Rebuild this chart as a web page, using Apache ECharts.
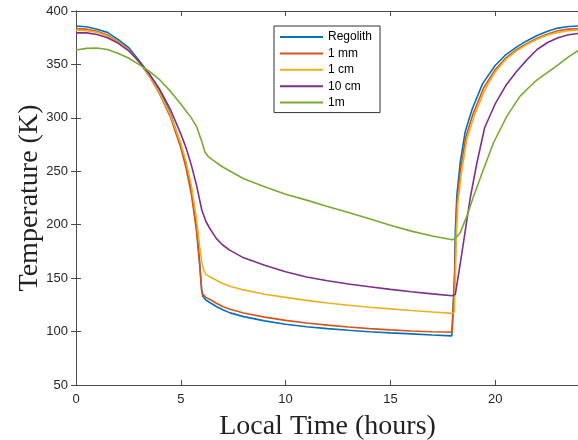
<!DOCTYPE html>
<html>
<head>
<meta charset="utf-8">
<script src="https://cdn.jsdelivr.net/npm/echarts@6/dist/echarts.min.js"></script>
<style>
  html, body { margin: 0; padding: 0; background: #fff; }
  #chart { width: 578px; height: 440px; }
</style>
</head>
<body>
<div id="chart"></div>
<script>
// [local time (h), temperature (K)]
const regolith = [
  [0, 386], [0.5, 385.2], [1, 383], [1.5, 380], [2, 373.5], [2.5, 366], [3, 354], [3.5, 341],
  [4, 325], [4.5, 304], [5, 275], [5.25, 257], [5.5, 233], [5.75, 198], [5.9, 165], [6, 138],
  [6.05, 133], [6.2, 129.5], [6.4, 127], [6.7, 123.5], [7, 120.5], [7.35, 117.5], [8, 114],
  [9, 110], [10, 106.8], [11, 104.5], [12, 102.8], [13, 101.2], [14, 99.9], [15, 98.8],
  [16, 97.8], [17, 96.8], [17.93, 96], [18.02, 97], [18.06, 150], [18.1, 195], [18.17, 227],
  [18.33, 258], [18.57, 287], [18.9, 308], [19.4, 332], [20, 349], [20.5, 359], [21, 366],
  [21.5, 372], [22, 377], [22.5, 381], [23, 384], [23.5, 385.5], [24, 386]
]
const oneMm = [
  [0, 383.5], [0.5, 383], [1, 381], [1.5, 377.5], [2, 371.5], [2.5, 364], [3, 352.5], [3.5, 339],
  [4, 322], [4.5, 301], [5, 272], [5.25, 253], [5.5, 229], [5.75, 194], [5.9, 162], [6, 138],
  [6.05, 135], [6.2, 132], [6.4, 130], [6.7, 126.5], [7, 123.5], [7.35, 120.8], [8, 117.3],
  [9, 113.5], [10, 110.5], [11, 108], [12, 106], [13, 104.3], [14, 102.8], [15, 101.6],
  [16, 100.6], [17, 99.9], [17.95, 99.4], [18.03, 101], [18.08, 160], [18.13, 200], [18.2, 225],
  [18.35, 252], [18.6, 282], [18.95, 304], [19.45, 328], [20, 345], [20.5, 356], [21, 363.5],
  [21.5, 369.5], [22, 374.5], [22.5, 378.5], [23, 381.5], [23.5, 383], [24, 383.5]
]
const oneCm = [
  [0, 382], [0.5, 381.5], [1, 380], [1.5, 376.5], [2, 371], [2.5, 363.5], [3, 352.5], [3.5, 339.5],
  [4, 323], [4.5, 303], [5, 276], [5.25, 259], [5.5, 237], [5.75, 205], [5.9, 180], [6, 165],
  [6.1, 157], [6.2, 153.5], [6.4, 151], [7, 145], [7.35, 142.5], [8, 139], [9, 135], [10, 132],
  [11, 129.2], [12, 126.7], [13, 124.6], [14, 122.8], [15, 121.2], [16, 119.7], [17, 118.3],
  [17.95, 117], [18.05, 118], [18.1, 150], [18.15, 190], [18.22, 220], [18.4, 250], [18.65, 280],
  [19, 302], [19.5, 326], [20, 343], [20.5, 354.5], [21, 362.5], [21.5, 368.5], [22, 373.5],
  [22.5, 377.5], [23, 380], [23.5, 381.5], [24, 382]
]
const tenCm = [
  [0, 379.5], [0.5, 379.5], [1, 378], [1.5, 375], [2, 370], [2.5, 363], [3, 353], [3.5, 341],
  [4, 326.5], [4.5, 308], [5, 285], [5.25, 272], [5.5, 256], [5.75, 237], [6, 214], [6.2, 203],
  [6.4, 196], [6.7, 187], [7, 181], [7.35, 176], [8, 169], [9, 162], [10, 156], [11, 151],
  [12, 147.5], [13, 144.5], [14, 142], [15, 139.5], [16, 137.3], [17, 135.3], [17.95, 133.5],
  [18.1, 135], [18.33, 163], [18.57, 194], [18.81, 225], [19.13, 258], [19.5, 291], [20, 313],
  [20.5, 330], [21, 343], [21.5, 354], [22, 364], [22.5, 370.5], [23, 375], [23.5, 377.8], [24, 379]
]
const oneM = [
  [0, 363.5], [0.5, 365], [1, 365.3], [1.5, 364], [2, 360.5], [2.5, 356], [3, 350], [3.5, 343.5],
  [4, 335.5], [4.5, 325], [5, 313], [5.5, 300], [5.75, 292], [6, 278], [6.15, 268], [6.3, 264],
  [6.5, 261], [7, 254], [8, 243], [9, 235.5], [10, 228.5], [11, 223], [12, 217], [13, 211.5],
  [14, 205.5], [15, 199.5], [16, 194], [17, 189.5], [17.95, 186], [18.1, 187], [18.33, 192.4],
  [18.65, 208], [18.97, 226.7], [19.44, 251.7], [19.92, 276.7], [20.56, 301.6], [21.19, 320.3],
  [21.67, 329.6], [22, 335.5], [22.5, 342.5], [23, 349.5], [23.5, 357], [24, 363.5]
]

const seriesNames = ['Regolith', '1 mm', '1 cm', '10 cm', '1m']
const seriesData = [regolith, oneMm, oneCm, tenCm, oneM]
const colors = ['#0072BD', '#D95319', '#EDB120', '#7E2F8E', '#77AC30']

const xMin = 0, xMax = 24, xStep = 5
const yMin = 50, yMax = 400, yStep = 50

const axisColor = '#4a4a4a'
const labelFont = { color: '#262626', fontSize: 13, fontFamily: 'Liberation Sans, Arial, sans-serif' }
const nameFont = { color: '#222', fontSize: 28, fontFamily: 'Liberation Serif, serif' }

function boxAxis(extra) {
  return Object.assign({
    type: 'value',
    axisLine: { show: true, lineStyle: { color: axisColor, width: 1 } },
    axisTick: { show: true, inside: true, length: 5, lineStyle: { color: axisColor } },
    splitLine: { show: false },
  }, extra)
}

const chart = echarts.init(document.getElementById('chart'), null, { renderer: 'canvas' })

chart.setOption({
  animation: false,
  backgroundColor: '#fff',
  color: colors,
  grid: { left: 76, right: -1, top: 11, bottom: 55, outerBoundsMode: 'none' },
  legend: {
    orient: 'vertical',
    left: 274,
    top: 26,
    padding: [5, 8, 4, 6],
    icon: 'rect',
    itemWidth: 43,
    itemHeight: 2,
    itemGap: 4.4,
    itemTextGap: 5,
    borderColor: '#333',
    borderWidth: 1,
    backgroundColor: '#fff',
    textStyle: { color: '#000', fontSize: 12, lineHeight: 12, fontFamily: 'Liberation Sans, Arial, sans-serif' },
    data: seriesNames,
  },
  xAxis: [
    boxAxis({
      min: xMin, max: xMax, interval: xStep, position: 'bottom',
      axisLabel: Object.assign({ margin: 8, showMaxLabel: false }, labelFont),
      name: 'Local Time (hours)',
      nameLocation: 'middle',
      nameGap: 28,
      nameMoveOverlap: false,
      nameTextStyle: nameFont,
    }),
    boxAxis({
      min: xMin, max: xMax, interval: xStep, position: 'top',
      axisLabel: { show: false },
    }),
  ],
  yAxis: [
    boxAxis({
      min: yMin, max: yMax, interval: yStep, position: 'left',
      axisLabel: Object.assign({ margin: 8 }, labelFont),
      name: 'Temperature (K)',
      nameLocation: 'middle',
      nameGap: 32,
      nameMoveOverlap: false,
      nameTextStyle: nameFont,
    }),
    boxAxis({
      min: yMin, max: yMax, interval: yStep, position: 'right',
      axisLabel: { show: false },
    }),
  ],
  series: seriesNames.map((name, i) => ({
    name,
    type: 'line',
    data: seriesData[i],
    xAxisIndex: 0,
    yAxisIndex: 0,
    symbol: 'none',
    showSymbol: false,
    smooth: false,
    lineStyle: { width: 1.6, color: colors[i] },
  })),
})
</script>
</body>
</html>
